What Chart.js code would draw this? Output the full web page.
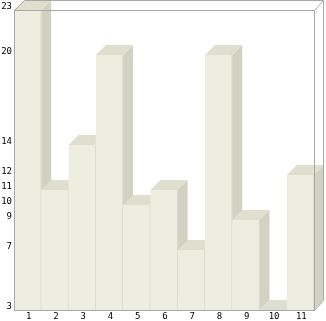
<!DOCTYPE html>
<html>
<head>
<meta charset="utf-8">
<script src="https://cdn.jsdelivr.net/npm/chart.js@4"></script>
<style>
  body { margin: 0; background: #fff; }
</style>
</head>
<body>
<canvas id="myChart" width="326" height="321"></canvas>
<script>
const labels_ = ['1', '2', '3', '4', '5', '6', '7', '8', '9', '10', '11'];
const values_ = [23, 11, 14, 20, 10, 11, 7, 20, 9, 3, 12];
const yTicks = [3, 7, 9, 10, 11, 12, 14, 20, 23];

const DEPTH = 10;
const frontColor = 'rgb(238,238,224)';
const topColor = 'rgb(223,223,208)';
const sideColor = 'rgb(210,210,194)';
const lineColor = 'rgb(168,168,168)';

// side + top faces, drawn left to right before the fronts
const faces3d = {
    id: 'faces3d',
    beforeDatasetsDraw(chart) {
        const ctx = chart.ctx;
        const bars = chart.getDatasetMeta(0).data;
        const bottom = chart.chartArea.bottom;
        ctx.save();
        bars.forEach(function (b) {
            const l = b.x - b.width / 2, r = b.x + b.width / 2;
            const t = b.y, base = Math.min(b.base, bottom);
            ctx.fillStyle = sideColor;
            ctx.beginPath();
            ctx.moveTo(r, t);
            ctx.lineTo(r + DEPTH, t - DEPTH);
            ctx.lineTo(r + DEPTH, base - DEPTH);
            ctx.lineTo(r, base);
            ctx.closePath();
            ctx.fill();
            ctx.fillStyle = topColor;
            ctx.beginPath();
            ctx.moveTo(l, t);
            ctx.lineTo(l + DEPTH, t - DEPTH);
            ctx.lineTo(r + DEPTH, t - DEPTH);
            ctx.lineTo(r, t);
            ctx.closePath();
            ctx.fill();
        });
        ctx.restore();
    },
    afterDatasetsDraw(chart) {
        const ctx = chart.ctx;
        const a = chart.chartArea;
        const yS = chart.scales.y;
        const bars = chart.getDatasetMeta(0).data;
        ctx.save();
        ctx.strokeStyle = lineColor;
        ctx.lineWidth = 1;
        const L = Math.round(a.left) + 0.5, R = Math.round(a.right) + 0.5;
        const T = Math.round(a.top) + 0.5, B = Math.round(a.bottom) + 0.5;
        ctx.beginPath();
        // front frame
        ctx.moveTo(L, T); ctx.lineTo(L, B); ctx.lineTo(R, B); ctx.lineTo(R, T); ctx.lineTo(L, T);
        // back frame
        ctx.moveTo(L, T); ctx.lineTo(L + DEPTH, T - DEPTH); ctx.lineTo(R + DEPTH - 1, T - DEPTH);
        ctx.lineTo(R + DEPTH - 1, B - DEPTH);
        ctx.moveTo(R, T); ctx.lineTo(R + DEPTH - 1, T - DEPTH);
        ctx.moveTo(R, B); ctx.lineTo(R + DEPTH - 1, B - DEPTH);
        ctx.stroke();

        ctx.fillStyle = '#000';
        ctx.font = '9px "DejaVu Sans Mono"';
        ctx.textAlign = 'right';
        ctx.textBaseline = 'middle';
        yTicks.forEach(function (v) {
            ctx.fillText(String(v), 12, yS.getPixelForValue(v) - 3);
        });
        ctx.textAlign = 'center';
        bars.forEach(function (b, i) {
            ctx.fillText(labels_[i], b.x + 1, 317);
        });
        ctx.restore();
    }
};

const canvas_ = document.getElementById('myChart');
const ctx_ = canvas_.getContext('2d');

new Chart(ctx_, {
    type: 'bar',
    data: {
        labels: labels_,
        datasets: [{
            data: values_,
            backgroundColor: frontColor,
            borderColor: 'rgb(214,214,198)',
            borderWidth: { left: 0, right: 1, top: 0, bottom: 0 },
            borderSkipped: false,
            categoryPercentage: 1,
            barPercentage: 1
        }]
    },
    options: {
        responsive: false,
        animation: false,
        layout: { padding: { left: 14, right: 12, top: 10, bottom: 11 } },
        plugins: { legend: { display: false }, tooltip: { enabled: false } },
        scales: {
            x: { display: false },
            y: { display: false, min: 3, max: 23 }
        }
    },
    plugins: [faces3d]
});
</script>
</body>
</html>
